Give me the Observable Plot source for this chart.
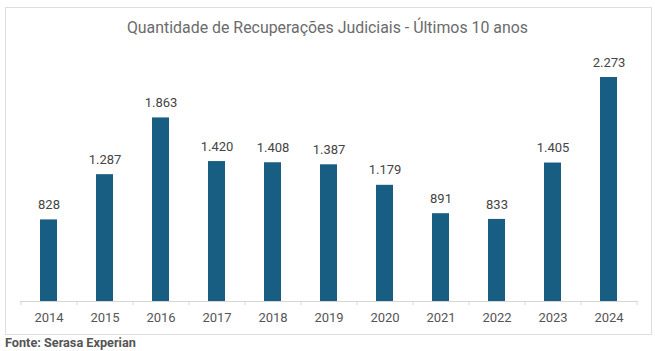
<!DOCTYPE html>
<html>
<head>
<meta charset="utf-8">
<script src="https://cdn.jsdelivr.net/npm/d3@7"></script>
<script src="https://cdn.jsdelivr.net/npm/@observablehq/plot@0.6"></script>
<style>
  html, body { margin: 0; padding: 0; background: #fff; }
  body { width: 655px; height: 351px; position: relative; overflow: hidden; font-family: Roboto, "Noto Sans", sans-serif; }
  #frame { position: absolute; left: 5px; top: 7px; width: 645px; height: 326px; border: 1px solid #dedede; box-sizing: content-box; }
  #title { position: absolute; left: 0; top: 18px; width: 655px; text-align: center; font-size: 15.9px; color: #6b6b6b; }
  #chart { position: absolute; left: 0; top: 0; }
  #caption { position: absolute; left: 5px; top: 335px; font-size: 12.7px; font-weight: bold; color: #555; }
</style>
</head>
<body>
<div id="frame"></div>
<div id="title">Quantidade de Recuperações Judiciais - Últimos 10 anos</div>
<div id="chart"></div>
<div id="caption">Fonte: Serasa Experian</div>
<script>
const years = ["2014","2015","2016","2017","2018","2019","2020","2021","2022","2023","2024"];
const values = [828, 1287, 1863, 1420, 1408, 1387, 1179, 891, 833, 1405, 2273];

const data = years.map((y, i) => ({year: y, value: values[i]}));
const fmt = v => d3.format(",")(v).replace(/,/g, ".");

const W = 655, H = 335, mL = 20, mR = 17;
const step = (W - mL - mR) / years.length;

const chart = Plot.plot({
  width: W,
  height: H,
  marginLeft: mL,
  marginRight: mR,
  marginTop: 77,
  marginBottom: 34,
  style: {fontFamily: "Roboto, sans-serif", background: "transparent"},
  x: {domain: years, paddingInner: 0.69, paddingOuter: 0.345, align: 0.5},
  y: {domain: [0, d3.max(values)], axis: null},
  marks: [
    Plot.barY(data, {x: "year", y: "value", fill: "#175e82"}),
    Plot.ruleY([0], {stroke: "#d6d6d6", strokeWidth: 1}),
    Plot.ruleX(years, {x: d => d, y1: 0, y2: 0, insetBottom: -4, dx: -step / 2, stroke: "#d6d6d6"}),
    Plot.ruleX([years[years.length - 1]], {x: d => d, y1: 0, y2: 0, insetBottom: -4, dx: step / 2, stroke: "#d6d6d6"}),
    Plot.text(data, {x: "year", y: "value", text: d => fmt(d.value), dy: -15, fill: "#444", fontSize: 13}),
    Plot.axisX({tickSize: 0, tickPadding: 11, fontSize: 13, color: "#555", label: null})
  ]
});
document.getElementById("chart").appendChild(chart);
</script>
</body>
</html>
